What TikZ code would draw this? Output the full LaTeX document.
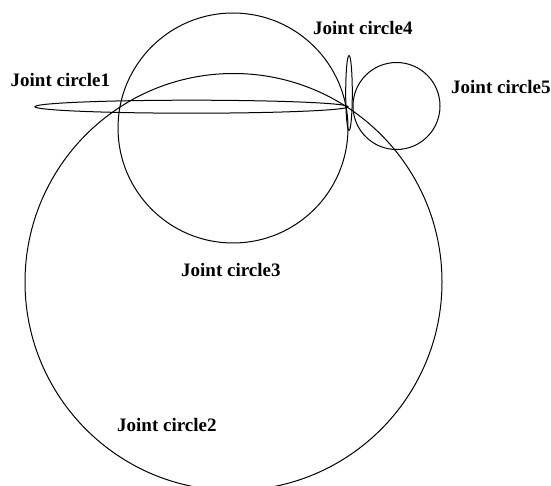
\documentclass[tikz,border=0pt]{standalone}
\usepackage{fontspec}
\setmainfont{Liberation Serif}
\usetikzlibrary{shapes.geometric}
\begin{document}
\begin{tikzpicture}[x=1pt,y=-1pt,
  curve/.style={draw=black,line width=1pt},
  lbl/.style={font=\fontsize{19}{22}\selectfont\bfseries,inner sep=0pt,anchor=base west}]
\useasboundingbox (0,0) rectangle (551,486);
\clip (0,0) rectangle (551,486);
% Joint circle2 (large)
\draw[curve] (233.5,282) circle[radius=208.5];
% Joint circle3
\draw[curve] (233,128) circle[radius=115];
% Joint circle1 (flat ellipse)
\draw[curve] (191.5,106.7) ellipse[x radius=156.5,y radius=6.5];
% Joint circle4 (thin vertical ellipse)
\draw[curve] (349,93) ellipse[x radius=3.3,y radius=37.5];
% Joint circle5
\draw[curve] (396.5,106) circle[radius=43.5];
% labels
\node[lbl] (l1) at (10.5,86.7) {Joint circle1};
\node[lbl] (l4) at (313,34.3) {Joint circle4};
\node[lbl] (l5) at (451,94) {Joint circle5};
\node[lbl] (l3) at (181,276.5) {Joint circle3};
\node[lbl] (l2) at (117,431.5) {Joint circle2};
\end{tikzpicture}
\end{document}
